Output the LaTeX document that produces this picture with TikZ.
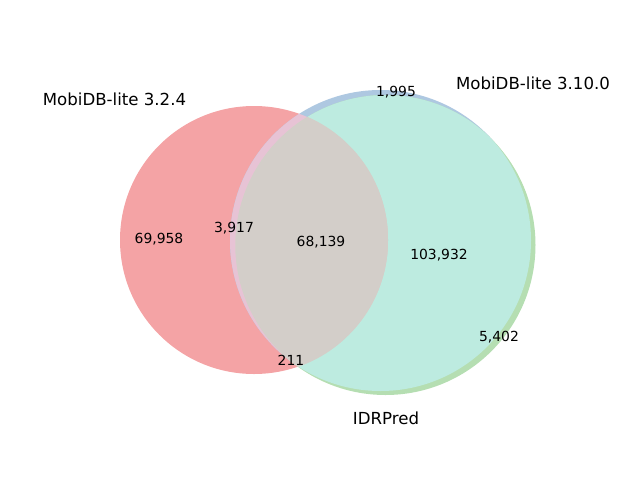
\documentclass[tikz,border=0pt]{standalone}
\usepackage{fontspec}
\setmainfont{DejaVu Sans}
\definecolor{cRed}{HTML}{F4A3A5}
\definecolor{cBlue}{HTML}{AEC8E1}
\definecolor{cGreen}{HTML}{B5DEB2}
\definecolor{cTeal}{HTML}{BDEBE0}
\definecolor{cPink}{HTML}{E7C3D5}
\definecolor{cGray}{HTML}{D3CEC9}
\definecolor{cRG}{HTML}{D0D8C4}
\begin{document}
\begin{tikzpicture}[x=1pt,y=-1pt,
  setlabel/.style={font=\fontsize{16.6}{18}\selectfont, inner sep=0pt},
  count/.style={font=\fontsize{13.9}{15}\selectfont, inner sep=0pt}]
\useasboundingbox (0,0) rectangle (640,480);
\def\cA{(254,240) circle (134)}
\def\cB{(380.5,240.5) circle (150.5)}
\def\cC{(385.5,245) circle (150)}
% single sets
\fill[cRed] \cA;
\fill[cBlue] \cB;
\fill[cGreen] \cC;
% B and C
\begin{scope}
  \clip \cB;
  \fill[cTeal] \cC;
\end{scope}
% A and B
\begin{scope}
  \clip \cA;
  \fill[cPink] \cB;
\end{scope}
% A and C
\begin{scope}
  \clip \cA;
  \fill[cRG] \cC;
\end{scope}
% A, B and C
\begin{scope}
  \clip \cA;
  \clip \cB;
  \fill[cGray] \cC;
\end{scope}
% set labels
\node[setlabel] (lA) at (114.5,99) {MobiDB-lite 3.2.4};
\node[setlabel] (lB) at (533,83) {MobiDB-lite 3.10.0};
\node[setlabel] (lC) at (386,418) {IDRPred};
% counts
\node[count] (n100) at (159,239) {69,958};
\node[count] (n010) at (396,92) {1,995};
\node[count] (n110) at (234,228) {3,917};
\node[count] (n111) at (321,242) {68,139};
\node[count] (n011) at (439,255) {103,932};
\node[count] (n001) at (499,337) {5,402};
\node[count] (n101) at (291,360) {211};
\end{tikzpicture}
\end{document}
